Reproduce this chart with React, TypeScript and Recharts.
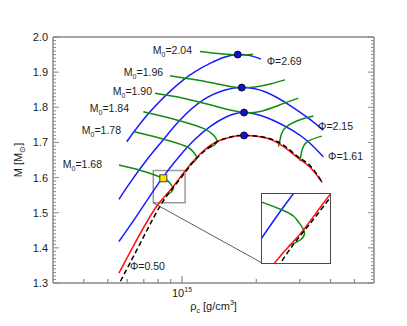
import {
  ComposedChart,
  Line,
  Scatter,
  XAxis,
  YAxis,
  ReferenceArea,
  ReferenceLine,
} from "recharts";

// x = central density in units of 1e15 g/cm^3, y = gravitational mass in M_sun
type Pt = [number, number];

const tovSeq: Pt[] = [
  [0.563, 1.305], [0.676, 1.412], [0.815, 1.519], [0.937, 1.578], [1.078, 1.633],
  [1.183, 1.664], [1.383, 1.701], [1.611, 1.717], [1.784, 1.72], [2.21, 1.713],
  [2.64, 1.687], [2.953, 1.659], [3.3, 1.634], [3.7, 1.587],
];

const phi050: Pt[] = [
  [0.555, 1.328], [0.635, 1.405], [0.778, 1.512], [0.894, 1.563], [1.013, 1.613],
  [1.183, 1.667], [1.383, 1.702], [1.611, 1.717], [1.784, 1.72], [2.21, 1.712],
  [2.64, 1.683], [2.953, 1.656], [3.3, 1.63], [3.7, 1.586],
];

const phi161: Pt[] = [
  [0.555, 1.418], [0.645, 1.484], [0.742, 1.548], [0.853, 1.609], [0.982, 1.663],
  [1.129, 1.709], [1.299, 1.745], [1.494, 1.771], [1.784, 1.785], [2.238, 1.769],
  [2.792, 1.735], [3.251, 1.702], [3.74, 1.659],
];

const phi215: Pt[] = [
  [0.555, 1.538], [0.615, 1.585], [0.719, 1.65], [0.838, 1.707], [0.982, 1.764],
  [1.22, 1.821], [1.494, 1.849], [1.746, 1.856], [2.17, 1.844], [2.784, 1.802],
  [3.251, 1.769], [3.74, 1.735],
];

const phi269: Pt[] = [
  [0.597, 1.702], [0.742, 1.787], [1.013, 1.878], [1.299, 1.925], [1.494, 1.943],
  [1.682, 1.95], [1.887, 1.947], [2.091, 1.937],
];

const m204: Pt[] = [
  [1.183, 1.959], [1.361, 1.954], [1.565, 1.95], [1.682, 1.949], [1.801, 1.949], [1.94, 1.951],
];

const m196: Pt[] = [
  [0.894, 1.89], [1.183, 1.876], [1.565, 1.859], [1.746, 1.856], [1.977, 1.858],
  [2.274, 1.866], [2.615, 1.878],
];

const m190: Pt[] = [
  [0.778, 1.84], [1.013, 1.826], [1.299, 1.807], [1.565, 1.792], [1.784, 1.785],
  [2.071, 1.788], [2.496, 1.807], [2.961, 1.826],
];

const m184a: Pt[] = [
  [0.697, 1.787], [0.952, 1.764], [1.22, 1.74], [1.34, 1.721], [1.383, 1.707],
  [1.361, 1.694], [1.299, 1.686], [1.263, 1.681],
];
const m184b: Pt[] = [
  [2.457, 1.688], [2.496, 1.707], [2.574, 1.735], [2.871, 1.759], [3.407, 1.775],
];

const m178a: Pt[] = [
  [0.635, 1.731], [0.815, 1.712], [1.029, 1.69], [1.108, 1.674], [1.145, 1.659],
  [1.129, 1.647], [1.078, 1.639],
];
const m178b: Pt[] = [
  [3.008, 1.647], [3.056, 1.674], [3.203, 1.701], [3.684, 1.718],
];

const m168: Pt[] = [
  [0.555, 1.636], [0.676, 1.621], [0.84, 1.598], [0.894, 1.584], [0.92, 1.57],
  [0.905, 1.559], [0.872, 1.553], [0.86, 1.551],
];

const turningPts: Pt[] = [[1.682, 1.95], [1.746, 1.856], [1.784, 1.785], [1.784, 1.72]];
const marked: Pt[] = [[0.84, 1.598]];

const m0Tags: [number, number, string][] = [
  [1.098, 1.961, "2.04"], [0.838, 1.9, "1.96"], [0.756, 1.844, "1.90"],
  [0.61, 1.797, "1.84"], [0.566, 1.735, "1.78"], [0.474, 1.636, "1.68"],
];
const phiTags: [number, number, string][] = [
  [2.204, 1.93, "2.69"], [3.561, 1.745, "2.15"], [3.907, 1.659, "1.61"], [0.615, 1.347, "0.50"],
];

// zoomed window and inset corner (data units of the main chart)
const zoomX: [number, number] = [0.765, 1.029];
const zoomY: [number, number] = [1.528, 1.62];
const insetCorner: Pt = [2.11, 1.357];

const xTicks = [0.4, 0.5, 0.6, 0.7, 0.8, 0.9, 1, 2, 3, 4, 5];
const yTicks = Array.from({ length: 71 }, (_, i) => Math.round(130 + i) / 100);

const AXIS = "#8a8a8a";
const TXT = "#1c1c1c";
const FONT = "'Liberation Sans', Arial, sans-serif";
const BLUE = "#1a1aff";
const GREEN = "#138a13";
const RED = "#ff1010";

const toXY = (d: Pt[]) => d.map(([x, y]) => ({ x, y }));
const isMajor = (v: number) => Math.abs(v * 10 - Math.round(v * 10)) < 1e-6;

function BottomTick(p: any) {
  const major = p.payload.value === 1;
  return (
    <g>
      <line x1={p.x} x2={p.x} y1={p.y} y2={p.y - (major ? 7 : 4)} stroke={AXIS} strokeWidth={1.2} />
      {major && (
        <text x={p.x} y={p.y + 14} textAnchor="middle" fontSize={11} fill={TXT} fontFamily={FONT}>
          10<tspan fontSize={7} dy={-5}>15</tspan>
        </text>
      )}
    </g>
  );
}

function TopTick(p: any) {
  const major = p.payload.value === 1;
  return <line x1={p.x} x2={p.x} y1={p.y} y2={p.y + (major ? 7 : 4)} stroke={AXIS} strokeWidth={1.2} />;
}

function LeftTick(p: any) {
  const major = isMajor(p.payload.value);
  return (
    <g>
      <line x1={p.x} x2={p.x + (major ? 6 : 3)} y1={p.y} y2={p.y} stroke={AXIS} strokeWidth={1} />
      {major && (
        <text x={p.x - 5} y={p.y + 4} textAnchor="end" fontSize={11} fill={TXT} fontFamily={FONT}>
          {p.payload.value.toFixed(1)}
        </text>
      )}
    </g>
  );
}

function RightTick(p: any) {
  const major = isMajor(p.payload.value);
  return <line x1={p.x} x2={p.x - (major ? 6 : 3)} y1={p.y} y2={p.y} stroke={AXIS} strokeWidth={1} />;
}

const M0Tag = (p: any) => (
  <text x={p.cx} y={p.cy + 3.5} textAnchor="end" fontSize={10.5} fill={TXT} fontFamily={FONT}>
    M<tspan fontSize={7} dy={3}>0</tspan>
    <tspan dy={-3}>={p.payload.v}</tspan>
  </text>
);

const PhiTag = (p: any) => (
  <text x={p.cx} y={p.cy + 3.5} textAnchor="start" fontSize={10.5} fill={TXT} fontFamily={FONT}>
    Φ={p.payload.v}
  </text>
);

const BlueDot = (p: any) => <circle cx={p.cx} cy={p.cy} r={3.5} fill="#1010d8" stroke="#000" strokeWidth={0.8} />;
const YellowSq = (p: any) => (
  <rect x={p.cx - 3.5} y={p.cy - 3.5} width={7} height={7} fill="#f5e400" stroke="#444" strokeWidth={1} />
);

const YLabel = (p: any) => {
  const vb = p.viewBox;
  const cx = vb.x + vb.width - 31;
  const cy = vb.y + vb.height / 2;
  return (
    <text x={cx} y={cy} transform={`rotate(-90 ${cx} ${cy})`} textAnchor="middle" fontSize={11} fill={TXT} fontFamily={FONT}>
      M [M<tspan fontSize={8} dy={3}>⊙</tspan>
      <tspan dy={-3}>]</tspan>
    </text>
  );
};

const XLabel = (p: any) => {
  const vb = p.viewBox;
  return (
    <text x={vb.x + vb.width / 2} y={vb.y + 27} textAnchor="middle" fontSize={11} fill={TXT} fontFamily={FONT}>
      ρ<tspan fontSize={7} dy={3}>c</tspan>
      <tspan dy={-3}> [g/cm</tspan>
      <tspan fontSize={7} dy={-5}>3</tspan>
      <tspan dy={5}>]</tspan>
    </text>
  );
};

function curve(d: Pt[], color: string, key: string, dash?: string) {
  return (
    <Line
      key={key}
      data={toXY(d)}
      dataKey="y"
      type="natural"
      stroke={color}
      strokeWidth={1.5}
      strokeDasharray={dash}
      dot={false}
      activeDot={false}
      isAnimationActive={false}
    />
  );
}

function Inset() {
  return (
    <ComposedChart width={68} height={69} margin={{ top: 0, right: 0, bottom: 0, left: 0 }}>
      <XAxis type="number" dataKey="x" scale="log" domain={zoomX} allowDataOverflow hide />
      <YAxis type="number" dataKey="y" domain={zoomY} allowDataOverflow hide />
      {curve(phi161, BLUE, "b")}
      {curve(m168, GREEN, "g")}
      {curve(phi050, RED, "r")}
      {curve(tovSeq, "#000", "t", "5 3")}
    </ComposedChart>
  );
}

export default function App() {
  return (
    <div style={{ position: "absolute", left: 0, top: 0, width: 407, height: 326, background: "#fff" }}>
      <ComposedChart width={407} height={326} margin={{ top: 0, right: 0, bottom: 0, left: 0 }}>
        <XAxis
          type="number"
          dataKey="x"
          scale="log"
          domain={[0.3, 6]}
          allowDataOverflow
          ticks={xTicks}
          interval={0}
          height={43}
          tickSize={0}
          tickMargin={0}
          tickLine={false}
          axisLine={{ stroke: AXIS, strokeWidth: 1.5 }}
          tick={(p: any) => <BottomTick {...p} />}
          label={<XLabel />}
        />
        <XAxis
          xAxisId="top"
          orientation="top"
          type="number"
          scale="log"
          domain={[0.3, 6]}
          allowDataOverflow
          ticks={xTicks}
          interval={0}
          height={37}
          tickSize={0}
          tickMargin={0}
          tickLine={false}
          axisLine={{ stroke: AXIS, strokeWidth: 1.5 }}
          tick={(p: any) => <TopTick {...p} />}
        />
        <YAxis
          type="number"
          dataKey="y"
          domain={[1.3, 2.0]}
          allowDataOverflow
          ticks={yTicks}
          interval={0}
          width={53}
          tickSize={0}
          tickMargin={0}
          tickLine={false}
          axisLine={{ stroke: AXIS, strokeWidth: 1.5 }}
          tick={(p: any) => <LeftTick {...p} />}
          label={<YLabel />}
        />
        <YAxis
          yAxisId="right"
          orientation="right"
          type="number"
          domain={[1.3, 2.0]}
          allowDataOverflow
          ticks={yTicks}
          interval={0}
          width={33}
          tickSize={0}
          tickMargin={0}
          tickLine={false}
          axisLine={{ stroke: AXIS, strokeWidth: 1.5 }}
          tick={(p: any) => <RightTick {...p} />}
        />

        <ReferenceArea x1={zoomX[0]} x2={zoomX[1]} y1={zoomY[0]} y2={zoomY[1]} fill="none" stroke="#9a9a9a" strokeWidth={1.5} ifOverflow="visible" />
        <ReferenceLine
          segment={[{ x: zoomX[0], y: zoomY[0] }, { x: insetCorner[0], y: insetCorner[1] }]}
          stroke="#333"
          strokeWidth={0.8}
          ifOverflow="visible"
        />

        {curve(phi269, BLUE, "p269")}
        {curve(phi215, BLUE, "p215")}
        {curve(phi161, BLUE, "p161")}
        {curve(m204, GREEN, "m204")}
        {curve(m196, GREEN, "m196")}
        {curve(m190, GREEN, "m190")}
        {curve(m184a, GREEN, "m184a")}
        {curve(m184b, GREEN, "m184b")}
        {curve(m178a, GREEN, "m178a")}
        {curve(m178b, GREEN, "m178b")}
        {curve(m168, GREEN, "m168")}
        {curve(phi050, RED, "p050")}
        {curve(tovSeq, "#000", "tov", "5 3")}

        <Scatter data={toXY(turningPts)} shape={BlueDot} isAnimationActive={false} />
        <Scatter data={toXY(marked)} shape={YellowSq} isAnimationActive={false} />
        <Scatter data={m0Tags.map(([x, y, v]) => ({ x, y, v }))} shape={M0Tag} isAnimationActive={false} />
        <Scatter data={phiTags.map(([x, y, v]) => ({ x, y, v }))} shape={PhiTag} isAnimationActive={false} />
      </ComposedChart>
      <div
        style={{
          position: "absolute",
          left: 262,
          top: 194,
          width: 68,
          height: 69,
          background: "#fff",
          outline: "1.5px solid #4a4a4a",
        }}
      >
        <Inset />
      </div>
    </div>
  );
}
